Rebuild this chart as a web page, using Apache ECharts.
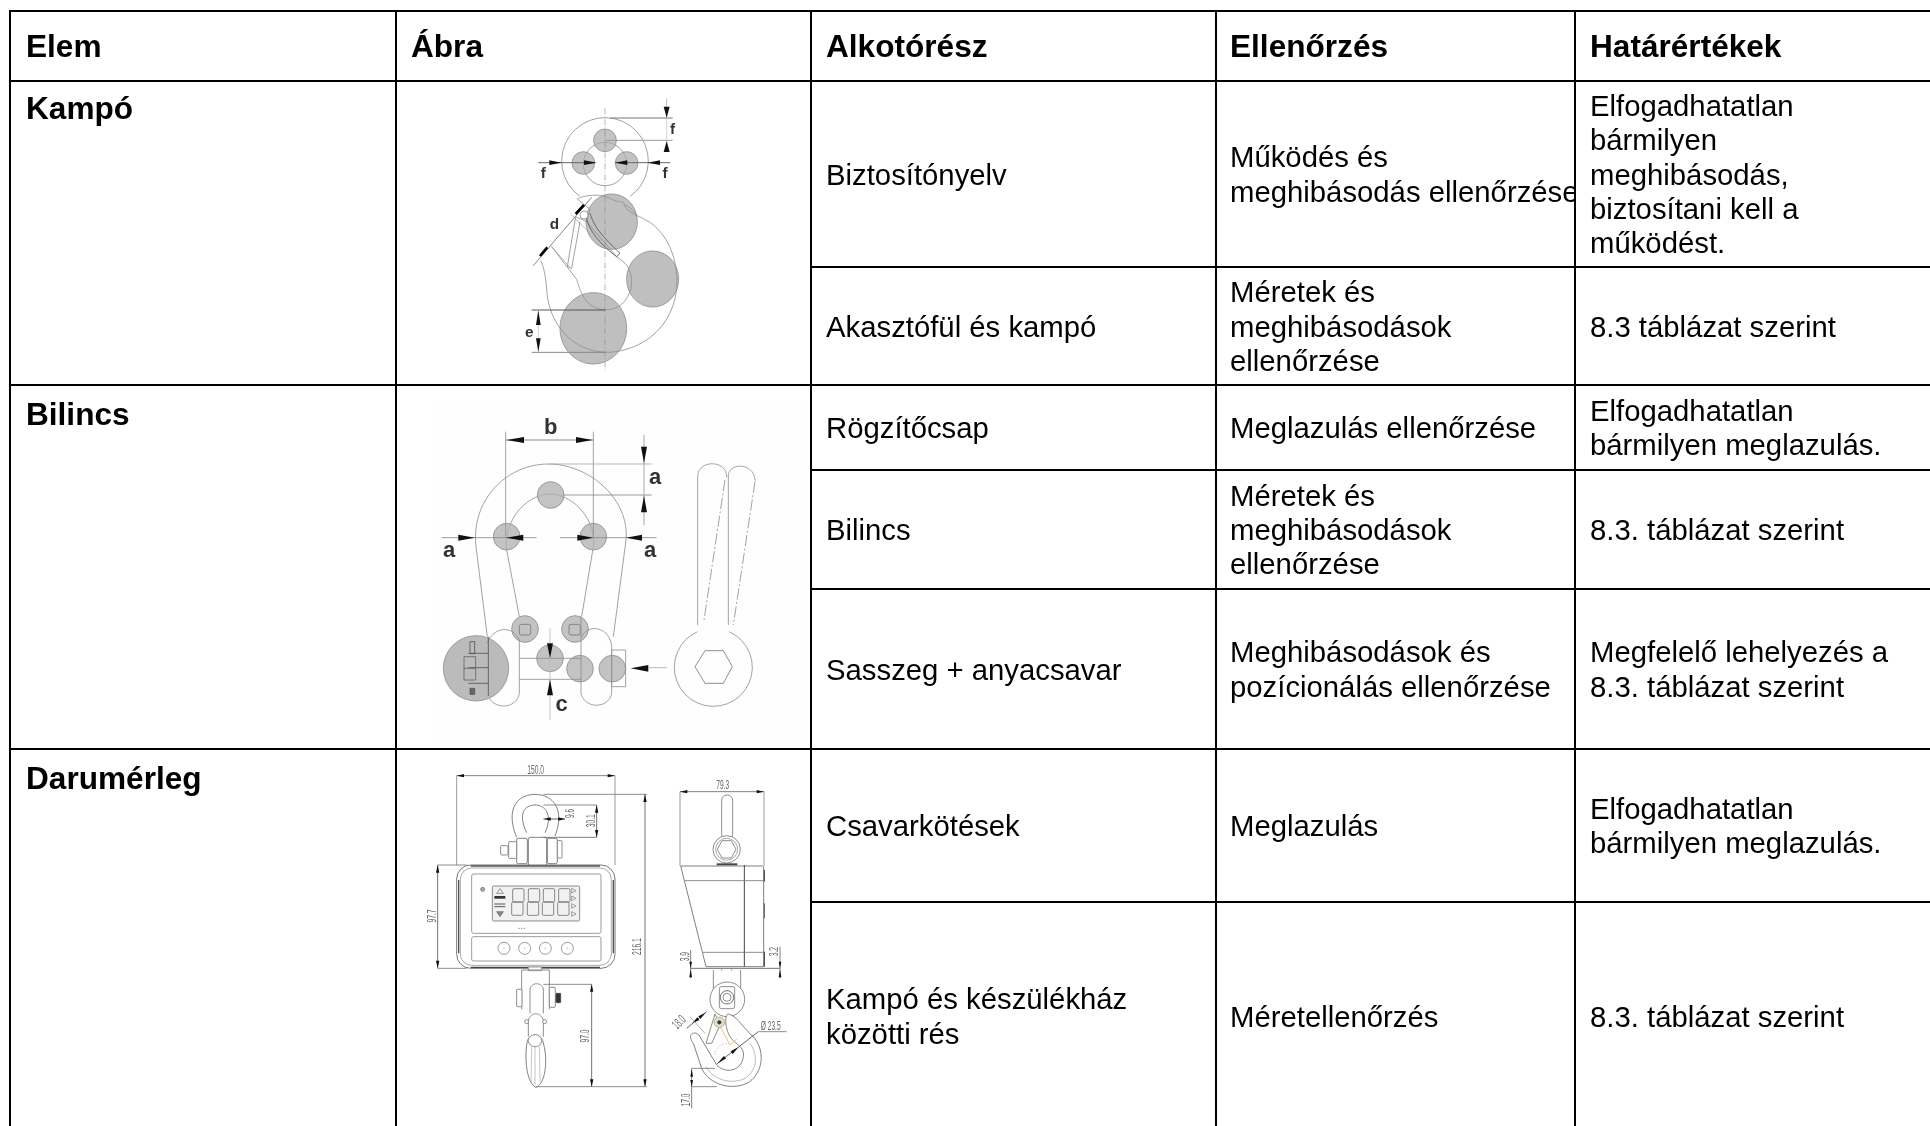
<!DOCTYPE html>
<html lang="hu">
<head>
<meta charset="utf-8">
<title>Ellenőrzési táblázat</title>
<style>html,body{margin:0;padding:0;background:#fff}#chart{width:1930px;height:1126px}</style>
<script src="https://cdn.jsdelivr.net/npm/echarts@6/dist/echarts.min.js"></script>
</head>
<body>
<div id="chart"></div>
<script>
// ---- table content ----
const headers = ["Elem", "Ábra", "Alkotórész", "Ellenőrzés", "Határértékek"];
const items = ["Kampó", "Bilincs", "Darumérleg"];
const parts = [
  ["Biztosítónyelv"], ["Akasztófül és kampó"], ["Rögzítőcsap"], ["Bilincs"],
  ["Sasszeg + anyacsavar"], ["Csavarkötések"], ["Kampó és készülékház", "közötti rés"]
];
const checks = [
  ["Működés és", "meghibásodás ellenőrzése"],
  ["Méretek és", "meghibásodások", "ellenőrzése"],
  ["Meglazulás ellenőrzése"],
  ["Méretek és", "meghibásodások", "ellenőrzése"],
  ["Meghibásodások és", "pozícionálás ellenőrzése"],
  ["Meglazulás"],
  ["Méretellenőrzés"]
];
const limits = [
  ["Elfogadhatatlan", "bármilyen", "meghibásodás,", "biztosítani kell a", "működést."],
  ["8.3 táblázat szerint"],
  ["Elfogadhatatlan", "bármilyen meglazulás."],
  ["8.3. táblázat szerint"],
  ["Megfelelő lehelyezés a", "8.3. táblázat szerint"],
  ["Elfogadhatatlan", "bármilyen meglazulás."],
  ["8.3. táblázat szerint"]
];
// ---- table layout ----
const colLines = [10, 396, 811, 1216, 1575];
const textX = [26, 411, 826, 1230, 1590];
const headTop = 11, headBottom = 81;
const rowLines = [81, 267, 385, 470, 589, 749, 902, 1132];
const itemCentre = [108, 414, 778];
const lineStep = 34.2;
const lastRowCentre = 1016;
const FONT = '"Liberation Sans", Arial, sans-serif';
const BODY = 29.3, BOLD = 31.6;

const els = [];
function text(x, y, s, size, weight) {
  return { type: 'text', x: x, y: y + 2.5, z: 10, silent: true,
    style: { text: s, fontFamily: FONT, fontSize: size, fontWeight: weight || 'normal', fill: '#000', textAlign: 'left', textVerticalAlign: 'middle', verticalAlign: 'middle' } };
}
function block(x, cy, lines) {
  lines.forEach(function (s, i) { els.push(text(x, cy + (i - (lines.length - 1) / 2) * lineStep, s, BODY)); });
}
function centreOf(i) { return i === 6 ? lastRowCentre : (rowLines[i] + rowLines[i + 1]) / 2; }
headers.forEach(function (h, i) { els.push(text(textX[i], 46, h, BOLD, 'bold')); });
items.forEach(function (h, i) { els.push(text(textX[0], itemCentre[i], h, BOLD, 'bold')); });
parts.forEach(function (p, i) {
  block(textX[2], centreOf(i), p);
  block(textX[3], centreOf(i), checks[i]);
});
// the long text of the 4th column is cut off by its cell edge
els.push({ type: 'rect', z: 11, silent: true, shape: { x: 1575, y: 150, width: 14, height: 60 }, style: { fill: '#fff' } });
parts.forEach(function (p, i) {
  limits[i].forEach(function (s, k) {
    const t = text(textX[4], centreOf(i) + (k - (limits[i].length - 1) / 2) * lineStep, s, BODY);
    t.z = 12; els.push(t);
  });
});
function rule(x1, y1, x2, y2) {
  els.push({ type: 'line', z: 20, silent: true, shape: { x1: x1, y1: y1, x2: x2, y2: y2 }, style: { stroke: '#000', lineWidth: 2 } });
}
rule(colLines[0] - 1, headTop, 1930, headTop);
rule(colLines[0] - 1, headBottom, 1930, headBottom);
colLines.forEach(function (x) { rule(x, headTop, x, 1126); });
[267, 470, 589, 902].forEach(function (y) { rule(colLines[2], y, 1930, y); });
[385, 749].forEach(function (y) { rule(y === 385 ? colLines[0] : colLines[0], y, 1930, y); });

// flatten an M/L/C/Q/Z outline into points
function flatten(d) {
  const tk = d.match(/[MLCQZ]|-?\d+(?:\.\d+)?/g), pts = [];
  let i = 0, cmd = '', closed = false;
  const num = function () { return parseFloat(tk[i++]); };
  while (i < tk.length) {
    if (/[MLCQZ]/.test(tk[i])) cmd = tk[i++];
    if (cmd === 'Z') { closed = true; continue; }
    if (cmd === 'M' || cmd === 'L') { pts.push([num(), num()]); }
    else if (cmd === 'C') {
      const p0 = pts[pts.length - 1], a = [num(), num()], b = [num(), num()], c = [num(), num()];
      for (let k = 1; k <= 24; k++) {
        const t = k / 24, u = 1 - t;
        pts.push([u * u * u * p0[0] + 3 * u * u * t * a[0] + 3 * u * t * t * b[0] + t * t * t * c[0],
                  u * u * u * p0[1] + 3 * u * u * t * a[1] + 3 * u * t * t * b[1] + t * t * t * c[1]]);
      }
    } else if (cmd === 'Q') {
      const p0 = pts[pts.length - 1], a = [num(), num()], c = [num(), num()];
      for (let k = 1; k <= 12; k++) {
        const t = k / 12, u = 1 - t;
        pts.push([u * u * p0[0] + 2 * u * t * a[0] + t * t * c[0], u * u * p0[1] + 2 * u * t * a[1] + t * t * c[1]]);
      }
    }
  }
  return { pts: pts, closed: closed };
}

// ---- drawing helpers (local figure units: 3 units = 1 px) ----
const OUT = '#8f8f8f';
function mk(list) {
  return {
    L(x1, y1, x2, y2, c, w, dash) { list.push({ type: 'line', silent: true, shape: { x1, y1, x2, y2 }, style: { stroke: c || OUT, lineWidth: w || 2.5, lineDash: dash || null } }); },
    P(d, c, w, f, dash) {
      const o = flatten(d);
      list.push({ type: (o.closed || (f && f !== 'none')) ? 'polygon' : 'polyline', silent: true, shape: { points: o.pts }, style: { stroke: c || OUT, lineWidth: w || 2.5, fill: f || 'none', lineDash: dash || null } });
    },
    ARC(cx, cy, r, a0, a1) { list.push({ type: 'arc', silent: true, shape: { cx, cy, r, startAngle: a0 * Math.PI / 180, endAngle: a1 * Math.PI / 180, clockwise: true }, style: { stroke: OUT, lineWidth: 2.5, fill: 'none' } }); },
    C(cx, cy, r, f, c, w) { list.push({ type: 'circle', silent: true, shape: { cx, cy, r }, style: { fill: f || 'none', stroke: c || OUT, lineWidth: w || 2.5 } }); },
    E(cx, cy, rx, ry, f, c, w) { list.push({ type: 'ellipse', silent: true, shape: { cx, cy, rx, ry }, style: { fill: f || 'none', stroke: c || OUT, lineWidth: w || 2.5 } }); },
    R(x, y, width, height, r, f, c, w) { list.push({ type: 'rect', silent: true, shape: { x, y, width, height, r: r || 0 }, style: { fill: f || 'none', stroke: c === null ? 'none' : (c || OUT), lineWidth: w || 2.5 } }); },
    A(tx, ty, fx, fy, hw, c) {
      const dx = tx - fx, dy = ty - fy, n = Math.hypot(dx, dy), px = -dy / n * (hw || 9), py = dx / n * (hw || 9);
      list.push({ type: 'polygon', silent: true, shape: { points: [[tx, ty], [fx + px, fy + py], [fx - px, fy - py]] }, style: { fill: c || '#111' } });
    },
    T(x, y, s, size, o) {
      o = o || {};
      list.push({ type: 'text', silent: true, x, y, rotation: o.rot || 0, scaleX: o.sx || 1, scaleY: o.sy || 1,
        style: { text: s, fontFamily: o.font || FONT, fontSize: size, fontWeight: o.weight || 'normal', fill: o.fill || '#222', textAlign: 'center', textVerticalAlign: 'middle', verticalAlign: 'middle' } });
    }
  };
}
function figure(x, y, draw) {
  const children = [];
  draw(mk(children));
  els.push({ type: 'group', x: x, y: y, scaleX: 1 / 3, scaleY: 1 / 3, z: 5, silent: true, children: children });
}

// Kampó
figure(510, 90, function (g) {
  const b = { weight: 'bold', fill: '#333' };
  g.ARC(285, 213, 130, 125.5, 414.5);
  g.C(285, 222, 65);
  g.C(285, 151, 34, 'rgba(170,170,170,.7)');
  g.C(220, 219, 34, 'rgba(170,170,170,.7)');
  g.C(350, 219, 34, 'rgba(170,170,170,.7)');
  g.E(305, 395, 77, 83, 'rgba(180,180,180,.85)');
  g.E(428, 567, 78, 84, 'rgba(180,180,180,.85)');
  g.E(250, 715, 100, 107, 'rgba(180,180,180,.85)');
  // hook
  g.P('M342 345 C355 372 400 380 430 405 C480 445 505 520 500 590 C495 680 430 775 300 787 C210 790 130 730 112 620 C108 570 105 540 92 512');
  g.P('M125 470 L200 568 C210 600 215 615 235 640 C270 670 325 665 350 625 C375 585 365 540 345 520 L315 495 L260 430 L230 395');
  g.P('M205 325 C230 315 270 310 300 325 C320 340 345 330 342 345 C360 350 375 365 380 380');
  g.P('M200 325 L240 358 L230 395 L197 380 L172 530 L185 535 L210 395');
  g.P('M230 385 C240 430 280 470 320 500 L330 490 C290 450 255 420 240 370', '#666', 3);
  g.C(222, 375, 12, '#fff');
  g.L(285, 55, 285, 840, OUT, 2, [18, 6, 3, 6]);
  // dimensions
  g.L(300, 84, 488, 84, '#777', 3); g.L(285, 151, 488, 151, '#999', 3);
  g.L(470, 25, 470, 84, '#999', 2); g.L(470, 84, 470, 185, '#bbb', 2);
  g.A(470, 83, 470, 50); g.A(470, 153, 470, 186);
  g.L(85, 218, 255, 218, '#666', 3); g.L(315, 218, 480, 218, '#666', 3);
  g.A(155, 218, 118, 218, 7); g.A(260, 218, 222, 218, 7); g.A(315, 218, 352, 218, 7); g.A(413, 218, 450, 218, 7);
  g.T(100, 252, 'f', 46, b); g.T(488, 120, 'f', 46, b); g.T(465, 252, 'f', 46, b);
  g.L(70, 527, 245, 322, '#888', 3);
  g.L(180, 370, 240, 430, '#999', 2); g.L(120, 465, 178, 530, '#999', 2);
  g.L(197, 372, 222, 345, '#000', 8); g.L(90, 498, 112, 472, '#000', 8);
  g.T(133, 405, 'd', 46, b);
  g.L(65, 660, 285, 660, '#555', 3); g.L(65, 787, 285, 787, '#888', 3);
  g.L(85, 660, 85, 787, '#bbb', 2); g.A(85, 661, 85, 705, 7); g.A(85, 786, 85, 745, 7);
  g.T(58, 727, 'e', 46, b);
});

// Bilincs
figure(400, 390, function (g) {
  const b = { weight: 'bold', fill: '#333' };
  g.R(95, 45, 1130, 1005, 0, '#fefefe', null);
  g.P('M262 740 L228 470 C212 330 320 222 445 222 C570 222 690 330 678 450 L640 740');
  g.P('M358 680 L320 480 C310 400 370 315 450 312 C530 315 590 400 580 470 L545 680');
  [[452, 315], [320, 440], [580, 440], [375, 717], [525, 717], [450, 805], [540, 836], [637, 836]].forEach(function (c) {
    g.C(c[0], c[1], 40, 'rgba(175,175,175,.75)');
  });
  g.C(228, 835, 98, 'rgba(175,175,175,.85)');
  g.R(358, 703, 34, 32, 6, 'none', '#777'); g.R(507, 703, 34, 32, 6, 'none', '#777');
  g.P('M262 760 C275 715 335 700 358 750 L358 910 C350 955 290 960 268 925');
  g.P('M545 740 C565 700 630 710 635 770 L635 910 C628 955 555 960 543 910 L543 680');
  g.L(358, 805, 545, 805); g.L(358, 868, 545, 868);
  g.R(635, 780, 42, 110);
  g.L(265, 740, 265, 918, '#555');
  g.L(205, 790, 265, 790, '#555'); g.L(205, 833, 265, 833, '#555'); g.L(205, 880, 265, 880, '#555');
  g.R(210, 755, 14, 36, 0, 'none', '#555'); g.R(192, 800, 35, 70, 0, 'none', '#666');
  g.L(192, 835, 227, 835, '#666'); g.R(210, 895, 14, 18, 0, '#666', '#555');
  // right view
  g.P('M893 705 L893 260 C893 208 982 208 980 262');
  g.L(975, 270, 912, 690, OUT, 2.5, [34, 7, 6, 7]);
  g.P('M985 705 L985 255 C990 215 1065 220 1065 272');
  g.L(1065, 275, 1000, 705, OUT, 2.5, [34, 7, 6, 7]);
  g.ARC(940, 832, 117, -66, 246);
  g.P('M885 830 L915 782 L970 782 L997 830 L970 880 L915 880 Z', '#777');
  // dimensions
  g.L(317, 125, 317, 440); g.L(580, 125, 580, 440);
  g.L(317, 150, 580, 150, '#777'); g.A(319, 150, 372, 150, 9); g.A(578, 150, 528, 150, 9);
  g.T(452, 113, 'b', 66, b);
  g.L(445, 222, 755, 222, '#aaa'); g.L(490, 315, 755, 315, '#888');
  g.L(732, 135, 732, 405, '#999'); g.A(732, 220, 732, 170, 9); g.A(732, 317, 732, 367, 9);
  g.T(765, 265, 'a', 66, b);
  g.L(125, 443, 410, 443, '#888'); g.A(225, 443, 175, 443, 9); g.A(318, 443, 370, 443, 9);
  g.L(480, 443, 770, 443, '#888'); g.A(580, 443, 532, 443, 9); g.A(678, 443, 726, 443, 9);
  g.T(147, 482, 'a', 66, b); g.T(750, 482, 'a', 66, b);
  g.L(450, 715, 450, 990, '#bbb'); g.A(450, 805, 450, 760, 9); g.A(450, 868, 450, 916, 9);
  g.T(485, 945, 'c', 66, b);
  g.A(692, 835, 745, 835, 10); g.L(745, 833, 800, 833, '#aaa');
});

// Darumérleg
figure(400, 750, function (g) {
  const t = { fill: '#666', sx: 0.5 };
  const rotT = Object.assign({}, t, { rot: Math.PI / 2 });
  // --- front view
  g.L(170, 77, 645, 77, '#666'); g.L(170, 77, 170, 345, '#888'); g.L(645, 77, 645, 345, '#888');
  g.A(170, 77, 192, 77, 5); g.A(645, 77, 623, 77, 5);
  g.T(407, 60, '150.0', 40, t);
  g.L(430, 133, 740, 133, '#777'); g.L(735, 133, 735, 1010, '#555'); g.A(735, 133, 735, 156, 5); g.A(735, 1010, 735, 988, 5);
  g.T(713, 590, '216.1', 40, rotT);
  g.L(113, 345, 200, 345, '#777'); g.L(113, 655, 200, 655, '#777'); g.L(113, 345, 113, 655, '#555');
  g.A(113, 345, 113, 368, 5); g.A(113, 655, 113, 632, 5);
  g.T(97, 498, '97.7', 40, rotT);
  // shackle
  g.P('M350 262 C320 190 340 135 405 133 C470 135 492 190 465 258', '#666');
  g.P('M380 248 C352 190 375 165 405 165 C440 165 458 200 435 248', '#666');
  g.R(385, 262, 55, 85, 6, '#fff', '#666');
  g.R(350, 265, 32, 76, 5, '#fff', '#666'); g.R(442, 265, 30, 76, 5, '#fff', '#666');
  g.R(326, 275, 24, 50, 3, '#fff', '#777'); g.R(302, 287, 22, 28, 3, '#fff', '#777'); g.R(472, 272, 14, 52, 2, '#fff', '#777');
  g.L(430, 165, 590, 165, '#777'); g.L(430, 262, 590, 262, '#666'); g.L(590, 165, 590, 262, '#555');
  g.A(590, 165, 590, 188, 5); g.A(590, 262, 590, 240, 5);
  g.T(573, 212, '30.1', 40, rotT);
  g.L(430, 207, 495, 207, '#444'); g.A(432, 207, 452, 207, 5); g.A(495, 207, 475, 207, 5);
  g.T(511, 190, '9.6', 40, rotT);
  // body
  g.R(170, 345, 475, 310, 42, '#fff', '#777', 3);
  g.R(181, 354, 453, 292, 34, 'none', '#999');
  g.L(212, 348, 600, 348, '#555', 4); g.L(212, 652, 600, 652, '#444', 4);
  g.L(176, 390, 176, 610, '#555', 4); g.L(640, 390, 640, 610, '#555', 4);
  g.R(215, 372, 388, 178, 6, 'none', '#888'); g.R(215, 560, 388, 73, 6, 'none', '#888');
  g.C(248, 418, 6, '#aaa', '#777');
  g.R(277, 408, 262, 105, 4, '#f1f1f1', '#777');
  [338, 385, 430, 476].forEach(function (x) {
    g.R(x, 416, 34, 40, 4, 'none', '#555', 2); g.R(x - 3, 456, 34, 40, 4, 'none', '#555', 2);
  });
  g.L(283, 442, 316, 442, '#333', 8); g.L(283, 462, 316, 462, '#555', 3); g.L(283, 470, 316, 470, '#555', 3);
  g.P('M290 430 L300 416 L310 430 Z', '#666', 2); g.P('M290 485 L300 500 L310 485 Z', '#666', 2, '#888');
  [422, 445, 468, 492].forEach(function (y) { g.P('M515 ' + (y - 7) + ' L528 ' + y + ' L515 ' + (y + 7) + ' Z', '#777', 2); });
  g.L(355, 535, 375, 535, '#888', 3, [4, 4]);
  [312, 374, 436, 502].forEach(function (x) { g.C(x, 595, 18, '#fff', '#888'); g.C(x, 595, 2, '#ccc', '#ccc', 1); });
  // lower hook
  g.R(385, 651, 40, 11, 0, '#fff', '#888');
  g.P('M365 778 L365 660 L448 660 L448 778', '#777');
  g.R(350, 718, 16, 52, 2, '#fff', '#777'); g.R(448, 712, 18, 60, 4, '#fff', '#777');
  g.R(468, 730, 14, 28, 2, '#333', '#444');
  g.P('M390 790 L390 720 C390 695 430 695 430 720 L430 790', '#777');
  g.P('M385 860 L385 810 C395 785 420 785 430 810 L430 860', '#777');
  g.C(380, 815, 6, '#fff', '#777'); g.C(434, 815, 6, '#fff', '#777');
  g.P('M382 872 C372 925 380 1000 408 1012 C438 1000 445 925 428 872 C420 850 392 850 382 872 Z', '#666');
  g.E(405, 872, 20, 18, '#fff', '#777');
  g.L(395, 890, 393, 995, '#aaa', 2); g.L(405, 890, 405, 1005, '#aaa', 2); g.L(418, 890, 420, 995, '#aaa', 2);
  g.L(430, 703, 575, 703, '#777'); g.L(575, 703, 575, 1010, '#555'); g.L(408, 1010, 740, 1010, '#777');
  g.A(575, 703, 575, 725, 5); g.A(575, 1010, 575, 988, 5);
  g.T(557, 858, '97.0', 40, rotT);
  // --- side view
  g.L(840, 125, 1092, 125, '#666'); g.L(840, 125, 840, 348, '#888'); g.L(1092, 125, 1092, 348, '#888');
  g.A(840, 125, 862, 125, 5); g.A(1092, 125, 1070, 125, 5);
  g.T(968, 107, '79.3', 40, t);
  g.R(965, 135, 33, 135, 16, '#fff', '#777');
  g.C(980, 298, 41, '#fff', '#777'); g.C(980, 298, 33, 'none', '#999');
  g.P('M952 298 L966 272 L994 272 L1008 298 L994 324 L966 324 Z', '#777');
  g.L(950, 343, 1012, 343, '#444', 6);
  g.P('M842 348 L1088 348 Q1091 348 1091 352 L1091 650 L918 650 Z', '#666', 2.5, '#fff');
  g.L(1033, 345, 1033, 650, '#444', 3);
  g.L(855, 392, 1090, 392, '#777'); g.L(908, 607, 1090, 607, '#777');
  g.L(1093, 360, 1093, 395, '#333', 3); g.L(1093, 460, 1093, 505, '#555', 3); g.L(1093, 605, 1093, 650, '#333', 3);
  g.L(872, 655, 1140, 655, '#555');
  g.L(965, 655, 965, 662, '#888'); g.L(995, 655, 995, 662, '#888');
  g.L(872, 600, 872, 685, '#666'); g.A(872, 655, 872, 635, 4); g.A(872, 658, 872, 682, 4);
  g.T(855, 620, '3.9', 40, rotT);
  g.L(1140, 590, 1140, 685, '#666'); g.A(1140, 655, 1140, 635, 4); g.A(1140, 658, 1140, 682, 4);
  g.T(1123, 605, '3.2', 40, rotT);
  g.L(940, 660, 940, 720, '#777'); g.L(1022, 660, 1022, 720, '#777');
  g.C(982, 748, 52, '#fff', '#777');
  g.R(958, 710, 46, 66, 6, '#fff', '#777'); g.C(981, 742, 20, 'none', '#555'); g.C(981, 742, 12, 'none', '#777');
  // hook
  g.P('M983 792 C1010 795 1030 835 1060 860 C1095 900 1092 965 1045 998 C990 1025 925 1000 905 955 L880 880 C860 855 880 840 897 855 L950 945 C980 975 1025 960 1030 920 C1035 885 1000 885 985 850 C975 825 975 800 983 792 Z', '#666', 2.5, '#fff');
  g.P('M1050 880 C1075 915 1072 960 1035 985 C995 1005 940 990 918 950', '#999', 2);
  g.P('M918 880 L945 792 L960 825 L935 880 Z', '#777', 2.5, '#fff');
  g.C(958, 817, 16, '#ddd', '#c9a25a'); g.C(958, 817, 5, '#333', '#333');
  g.P('M962 832 L990 885 L1010 868', '#e0b070', 2.5);
  g.P('M945 915 C945 895 965 880 985 880', '#aaa', 2, 'none', [5, 5]);
  g.L(860, 835, 920, 785, '#444'); g.A(877, 820, 895, 806, 5); g.A(917, 788, 898, 803, 5);
  g.L(870, 800, 915, 850, '#888', 2);
  g.T(838, 818, '18.0', 40, Object.assign({}, t, { rot: Math.PI / 4 }));
  g.L(950, 942, 1075, 845, '#444'); g.L(1075, 845, 1160, 845, '#777');
  g.A(953, 940, 975, 922, 5); g.A(1015, 892, 995, 908, 5);
  g.T(1112, 829, 'Ø 23.5', 40, t);
  g.L(875, 955, 945, 955, '#777'); g.L(875, 1010, 950, 1010, '#777'); g.L(875, 955, 875, 1075, '#666');
  g.A(875, 957, 875, 980, 4); g.A(875, 1010, 875, 990, 4);
  g.T(860, 1050, '17.0', 40, rotT);
});

const chart = echarts.init(document.getElementById('chart'), null, { renderer: 'canvas' });
chart.setOption({ backgroundColor: '#fff', animation: false, graphic: { elements: els } });
</script>
</body>
</html>
